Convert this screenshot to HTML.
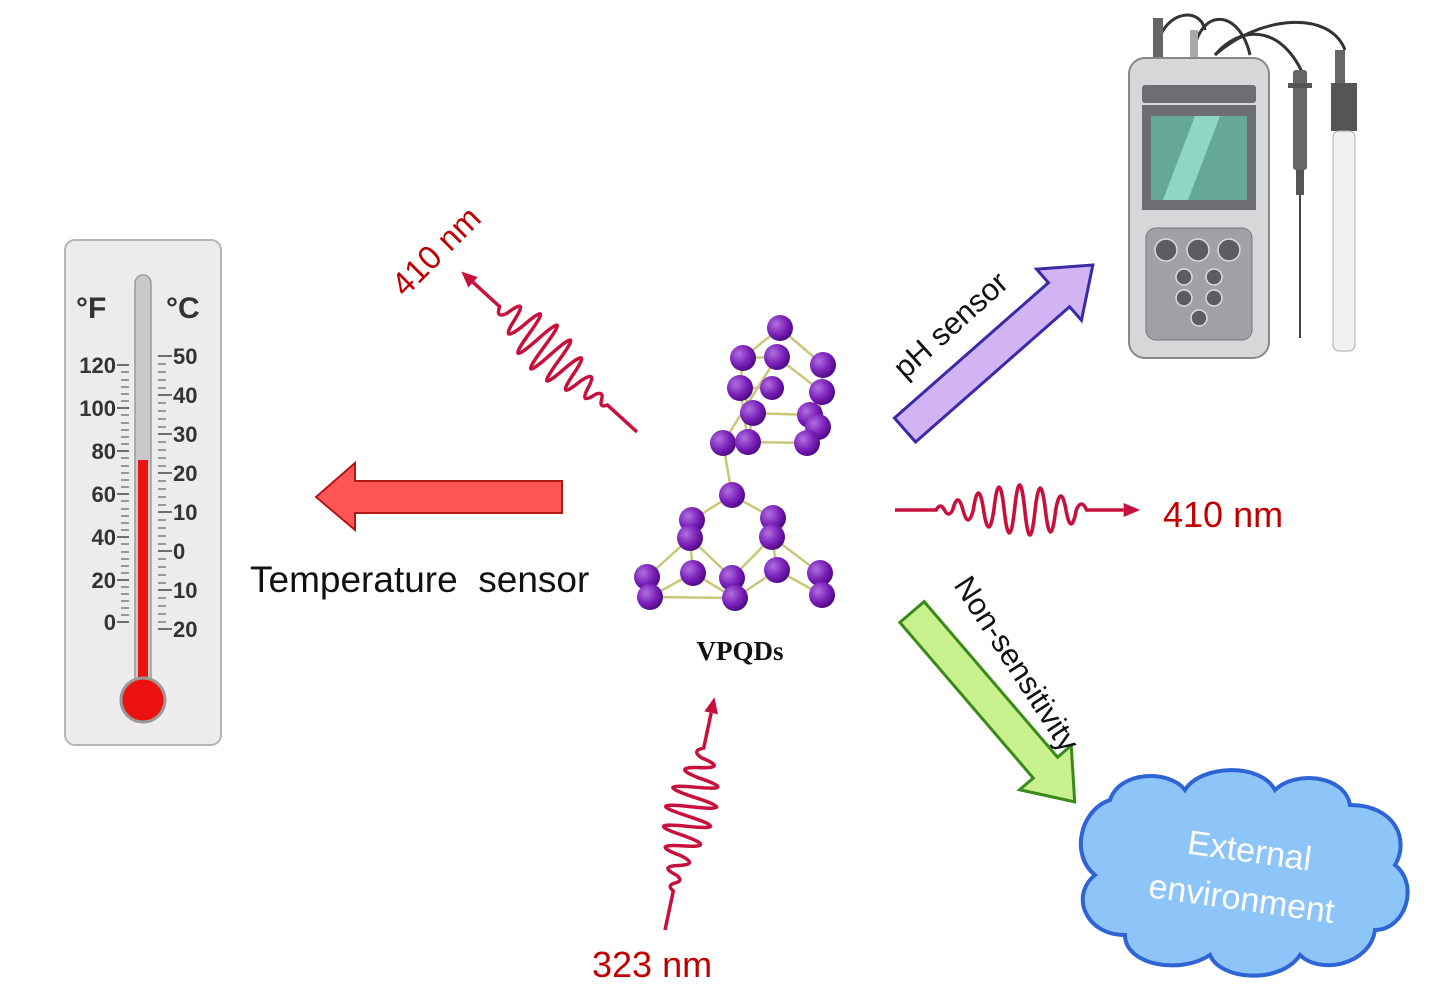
<!DOCTYPE html>
<html><head><meta charset="utf-8"><style>
body{margin:0;background:#fff}
svg{display:block}
</style></head><body>
<svg width="1438" height="985" viewBox="0 0 1438 985" xmlns="http://www.w3.org/2000/svg" font-family="Liberation Sans, sans-serif">
<defs>
<radialGradient id="ball" cx="35%" cy="35%" r="70%"><stop offset="0" stop-color="#b070e0"/><stop offset="0.6" stop-color="#7a1fb8"/><stop offset="1" stop-color="#4a0a80"/></radialGradient>
<g id="wave" fill="none" stroke="#c8103c" stroke-width="3.5">
<path d="M0,0 L40,0 q4,-8 8,0 t8,0 q5,-20 10,0 t10,0 q5,-34 10,0 t10,0 q5,-46 10,0 t10,0 q5,-50 10,0 t10,0 q5,-44 10,0 t10,0 q5,-28 10,0 t10,0 q5,-12 10,0 L222,0"/>
<path d="M222,-7 L238,0 L222,7 Z" fill="#c8103c" stroke="none"/>
</g>
</defs>

<rect x="65" y="240" width="156" height="505" rx="10" fill="#ececec" stroke="#b5b5b5" stroke-width="2"/>
<rect x="135" y="275" width="16" height="420" rx="8" fill="#c9c9c9" stroke="#9a9a9a" stroke-width="1.5"/>
<rect x="138" y="460" width="10" height="235" fill="#e11"/>
<circle cx="143" cy="700" r="22" fill="#e11" stroke="#999" stroke-width="3"/>
<g stroke="#444" stroke-width="1.5">
<path d="M117,365 h12 M117,408 h12 M117,451 h12 M117,494 h12 M117,537 h12 M117,580 h12 M117,622 h12"/>
<path d="M158,356 h14 M158,395 h14 M158,434 h14 M158,473 h14 M158,512 h14 M158,551 h14 M158,590 h14 M158,629 h14"/>
<path d="M121,372h8M121,380h8M121,387h8M121,394h8M121,401h8M121,415h8M121,423h8M121,430h8M121,437h8M121,444h8M121,458h8M121,466h8M121,473h8M121,480h8M121,487h8M121,501h8M121,509h8M121,516h8M121,523h8M121,530h8M121,544h8M121,552h8M121,559h8M121,566h8M121,573h8M121,587h8M121,594h8M121,601h8M121,608h8M121,615h8" stroke-width="1"/>
<path d="M158,364h8M158,372h8M158,380h8M158,388h8M158,403h8M158,411h8M158,419h8M158,427h8M158,442h8M158,450h8M158,458h8M158,466h8M158,481h8M158,489h8M158,497h8M158,505h8M158,520h8M158,528h8M158,536h8M158,544h8M158,559h8M158,567h8M158,575h8M158,583h8M158,598h8M158,606h8M158,614h8M158,622h8" stroke-width="1"/>
</g>
<g font-size="22" font-weight="bold" fill="#333">
<text x="76" y="318" font-size="30">°F</text><text x="166" y="318" font-size="30">°C</text>
<g text-anchor="end"><text x="116" y="373">120</text><text x="116" y="416">100</text><text x="116" y="459">80</text><text x="116" y="502">60</text><text x="116" y="545">40</text><text x="116" y="588">20</text><text x="116" y="630">0</text></g>
<text x="173" y="364">50</text><text x="173" y="403">40</text><text x="173" y="442">30</text><text x="173" y="481">20</text><text x="173" y="520">10</text><text x="173" y="559">0</text><text x="173" y="598">10</text><text x="173" y="637">20</text>
</g>

<polygon points="316,497 355,463 355,481 562,481 562,513 355,513 355,530" fill="#ff5555" stroke="#b01818" stroke-width="2"/>
<text x="250" y="592" font-size="37" fill="#111">Temperature&#160; sensor</text>

<use href="#wave" transform="translate(637,432) rotate(-137.6)"/>
<use href="#wave" transform="translate(665,930) rotate(-78)"/>
<use href="#wave" transform="translate(895,510) scale(1.03,1)"/>
<text transform="translate(405,298) rotate(-45)" font-size="33" fill="#c00000">410 nm</text>
<text x="1163" y="527" font-size="36" fill="#c00000">410 nm</text>
<text x="592" y="977" font-size="36" fill="#c00000">323 nm</text>

<g stroke="#c8c878" stroke-width="2.5" fill="none">
<path d="M780,328 L743,358 L740,388 L753,413 L748,442 L723,443 L732,495 M780,328 L823,365 L822,392 L818,427 L807,443 L748,442 M777,357 L822,392 M753,413 L810,415 M743,358 L777,357 M740,388 L772,388 M748,442 L740,388 M777,357 L723,443"/>
<path d="M732,495 L692,520 L690,538 L647,577 L650,597 L693,573 L690,538 L732,578 L735,598 L777,570 L772,537 L820,573 L822,595 L777,570 M732,495 L773,518 L772,537 L732,578 M693,573 L735,598 M650,597 L735,598"/>
</g>
<g fill="url(#ball)">
<circle cx="780" cy="328" r="13"/><circle cx="743" cy="358" r="13"/><circle cx="777" cy="357" r="13"/><circle cx="823" cy="365" r="13"/><circle cx="740" cy="388" r="13"/><circle cx="772" cy="388" r="12"/><circle cx="822" cy="392" r="13"/><circle cx="753" cy="413" r="13"/><circle cx="810" cy="415" r="13"/><circle cx="818" cy="427" r="13"/><circle cx="723" cy="443" r="13"/><circle cx="748" cy="442" r="13"/><circle cx="807" cy="443" r="13"/>
<circle cx="732" cy="495" r="13"/>
<circle cx="692" cy="520" r="13"/><circle cx="690" cy="538" r="13"/><circle cx="773" cy="518" r="13"/><circle cx="772" cy="537" r="13"/><circle cx="647" cy="577" r="13"/><circle cx="650" cy="597" r="13"/><circle cx="693" cy="573" r="13"/><circle cx="732" cy="578" r="13"/><circle cx="735" cy="598" r="13"/><circle cx="777" cy="570" r="13"/><circle cx="820" cy="573" r="13"/><circle cx="822" cy="595" r="13"/>
</g>
<text x="740" y="660" font-family="Liberation Serif, serif" font-weight="bold" font-size="27" text-anchor="middle" fill="#111">VPQDs</text>

<g transform="translate(905,430) rotate(-41.3)">
<polygon points="0,-16 205,-16 205,-34 250,0 205,34 205,16 0,16" fill="#d2b4f5" stroke="#3a2aa8" stroke-width="3"/>
</g>
<text transform="translate(905,380) rotate(-42)" font-size="31" fill="#111">pH sensor</text>

<g transform="translate(912,612) rotate(49.4)">
<polygon points="0,-16 205,-16 205,-34 250,0 205,34 205,16 0,16" fill="#c8f08c" stroke="#3a8a1a" stroke-width="3"/>
</g>
<text transform="translate(953,585) rotate(57)" font-size="31" fill="#111">Non-sensitivity</text>

<path d="M1110,800 C1120,770 1170,770 1185,790 C1200,765 1260,762 1275,790 C1295,770 1345,775 1350,805 C1395,805 1410,840 1395,865 C1420,885 1405,930 1375,930 C1370,965 1320,975 1300,955 C1280,985 1220,980 1210,955 C1180,975 1125,965 1125,935 C1085,935 1070,895 1095,875 C1070,855 1080,810 1110,800 Z" fill="#8ec5f8" stroke="#2e64d6" stroke-width="4"/>
<g fill="#fff" font-size="34" text-anchor="middle"><text transform="translate(1248,862) rotate(8)">External</text><text transform="translate(1240,910) rotate(8)">environment</text></g>

<g fill="none" stroke="#333" stroke-width="3">
<path d="M1155,55 C1160,10 1200,5 1205,30"/><path d="M1193,55 C1200,5 1240,10 1250,55"/><path d="M1215,55 C1240,25 1280,25 1302,72"/><path d="M1215,55 C1260,15 1330,10 1345,50"/>
</g>
<rect x="1153" y="18" width="10" height="40" fill="#666"/><rect x="1190" y="30" width="8" height="28" fill="#aaa"/>
<rect x="1129" y="58" width="140" height="300" rx="16" fill="#d6d7d9" stroke="#888" stroke-width="2"/>
<rect x="1142" y="85" width="114" height="18" rx="3" fill="#6d6e71"/>
<rect x="1142" y="105" width="114" height="105" fill="#6d6e71"/>
<rect x="1151" y="116" width="96" height="84" fill="#66a898"/>
<polygon points="1163,200 1195,116 1220,116 1188,200" fill="#8fd6c4"/>
<rect x="1146" y="228" width="106" height="112" rx="10" fill="#9fa1a5" stroke="#777"/>
<g fill="#5c5d61" stroke="#ddd" stroke-width="1.5"><circle cx="1166" cy="250" r="11"/><circle cx="1198" cy="250" r="11"/><circle cx="1229" cy="250" r="11"/><circle cx="1184" cy="277" r="8"/><circle cx="1214" cy="277" r="8"/><circle cx="1184" cy="298" r="8"/><circle cx="1214" cy="298" r="8"/><circle cx="1199" cy="318" r="8"/></g>
<rect x="1293" y="70" width="14" height="100" rx="3" fill="#666"/><rect x="1288" y="83" width="24" height="5" fill="#555"/><rect x="1296" y="170" width="8" height="25" fill="#555"/><line x1="1300" y1="195" x2="1300" y2="338" stroke="#444" stroke-width="2"/>
<rect x="1335" y="50" width="10" height="35" fill="#666"/><rect x="1331" y="83" width="26" height="48" fill="#555"/><rect x="1333" y="131" width="22" height="220" rx="6" fill="#eef0f2" stroke="#aaa"/>
</svg>
</body></html>
